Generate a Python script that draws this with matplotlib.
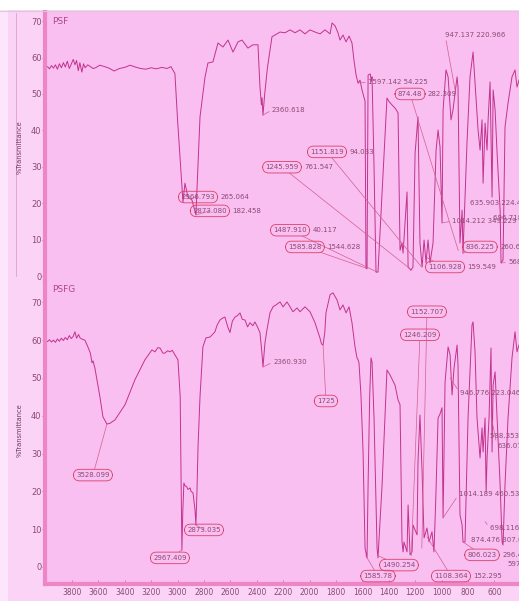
import matplotlib.pyplot as plt
from matplotlib.lines import Line2D
from matplotlib.patches import Rectangle
from matplotlib.ticker import MultipleLocator

plt.rcParams['font.family'] = ['Liberation Sans Narrow', 'DejaVu Sans']

# PSF spectrum (wavenumber cm-1, %T)
PSF = [(4000, 57.3), (3985, 57.5), (3970, 56.9), (3955, 57.8), (3940, 57.1), (3925, 58.0),
       (3910, 56.8), (3895, 58.3), (3880, 57.2), (3865, 58.6), (3850, 57.4), (3835, 59.0),
       (3820, 57.0), (3805, 58.2), (3790, 59.5), (3777, 58.0), (3765, 59.2), (3752, 56.4),
       (3740, 58.6), (3725, 56.0), (3712, 58.3), (3700, 57.2), (3680, 58.0), (3660, 57.5),
       (3640, 57.0), (3620, 57.2), (3590, 57.9), (3560, 57.6), (3520, 57.1), (3480, 56.3),
       (3440, 57.0), (3400, 57.3), (3360, 57.9), (3320, 57.4), (3280, 57.0), (3240, 56.8),
       (3200, 57.2), (3160, 56.9), (3120, 57.3), (3080, 57.0), (3050, 57.5), (3030, 56.2),
       (3020, 55.6), (3000, 42.9), (2959, 20.3), (2944, 25.5), (2921, 21.7), (2891, 20.9),
       (2861, 16.8), (2830, 43.7), (2792, 54.7), (2770, 58.5), (2732, 58.8), (2694, 64.0),
       (2656, 62.9), (2618, 64.8), (2580, 61.5), (2542, 64.3), (2512, 64.8), (2467, 62.6),
       (2429, 63.5), (2391, 63.5), (2376, 52.0), (2365, 47.0), (2360, 49.0), (2353, 44.2),
       (2340, 50.0), (2320, 57.0), (2285, 65.7), (2262, 66.2), (2224, 67.0), (2186, 66.8),
       (2148, 67.6), (2110, 66.8), (2073, 67.6), (2035, 66.5), (1997, 67.6), (1959, 67.0),
       (1921, 66.5), (1883, 67.6), (1845, 66.5), (1830, 69.5), (1807, 68.7), (1785, 66.8),
       (1770, 64.8), (1747, 66.2), (1724, 64.3), (1701, 65.9), (1679, 64.0), (1664, 59.3),
       (1648, 55.2), (1633, 53.0), (1618, 53.8), (1603, 51.1), (1580, 48.0), (1573, 2.2),
       (1565, 2.0), (1557, 55.2), (1540, 55.5), (1533, 53.5), (1527, 54.7), (1512, 30.0),
       (1497, 1.1), (1482, 1.1), (1414, 48.9), (1400, 48.0), (1376, 47.0), (1350, 46.0),
       (1330, 44.8), (1315, 7.1), (1300, 9.1), (1292, 6.3), (1262, 23.1), (1254, 2.5),
       (1232, 1.6), (1217, 2.5), (1201, 33.8), (1179, 43.7), (1164, 9.1), (1148, 2.5),
       (1133, 9.9), (1118, 3.6), (1103, 9.9), (1088, 3.6), (1065, 9.1), (1042, 34.6),
       (1027, 40.1), (1012, 35.4), (997, 14.6), (989, 45.6), (967, 56.6), (951, 54.7),
       (929, 42.9), (914, 45.6), (883, 54.7), (876, 51.9), (861, 9.1), (845, 18.1),
       (838, 6.3), (808, 36.5), (785, 54.7), (762, 61.5), (747, 53.0), (724, 40.1),
       (709, 34.6), (694, 42.9), (686, 25.5), (671, 42.0), (656, 34.6), (648, 42.9),
       (633, 53.3), (618, 21.7), (610, 51.1), (595, 45.6), (580, 33.8), (557, 18.1),
       (550, 3.6), (535, 4.4), (520, 40.9), (497, 47.5), (467, 54.7), (444, 56.6),
       (429, 51.9), (414, 53.8)]

# PSFG spectrum
PSFG = [(4000, 59.8), (3985, 59.6), (3970, 60.1), (3955, 59.5), (3940, 60.0), (3925, 59.4),
        (3910, 60.3), (3895, 59.7), (3880, 60.5), (3865, 59.9), (3850, 60.7), (3835, 60.1),
        (3820, 61.2), (3805, 60.4), (3790, 61.0), (3777, 62.2), (3765, 60.5), (3750, 61.5),
        (3739, 60.6), (3720, 60.2), (3702, 60.0), (3679, 58.2), (3660, 56.5), (3648, 54.0),
        (3640, 54.5), (3626, 52.6), (3588, 45.0), (3565, 39.7), (3535, 37.8), (3512, 38.0),
        (3474, 38.9), (3398, 42.9), (3323, 49.5), (3247, 54.8), (3194, 57.4), (3171, 56.9),
        (3150, 58.0), (3133, 57.9), (3110, 56.5), (3095, 56.6), (3075, 57.2), (3058, 56.9),
        (3040, 57.3), (3020, 56.1), (2997, 54.8), (2980, 45.0), (2974, 25.0), (2967, 4.5),
        (2960, 15.0), (2952, 22.2), (2944, 21.5), (2930, 21.2), (2921, 20.5), (2905, 20.9),
        (2898, 20.0), (2883, 19.6), (2868, 15.1), (2861, 11.1), (2853, 20.0), (2845, 31.7),
        (2830, 45.0), (2808, 58.2), (2785, 60.6), (2755, 60.8), (2735, 61.5), (2717, 62.2),
        (2700, 64.0), (2679, 65.3), (2660, 65.8), (2641, 66.1), (2620, 63.5), (2603, 62.0),
        (2585, 65.0), (2565, 66.1), (2545, 66.5), (2527, 67.2), (2510, 65.5), (2489, 65.3),
        (2470, 63.5), (2451, 64.6), (2430, 63.8), (2414, 64.8), (2395, 63.5), (2376, 62.0),
        (2361, 56.6), (2353, 52.9), (2338, 59.3), (2323, 62.7), (2300, 67.2), (2277, 68.8),
        (2255, 69.3), (2224, 70.1), (2201, 68.8), (2171, 70.1), (2148, 68.8), (2126, 67.5),
        (2095, 68.5), (2073, 67.5), (2035, 68.8), (1997, 67.5), (1959, 64.6), (1935, 62.0),
        (1921, 60.5), (1910, 59.0), (1898, 58.7), (1885, 62.0), (1876, 67.2), (1845, 72.0),
        (1823, 72.5), (1792, 70.6), (1770, 68.0), (1747, 69.3), (1724, 67.2), (1701, 68.8),
        (1679, 64.6), (1656, 58.2), (1641, 55.3), (1633, 54.8), (1626, 54.0), (1611, 45.5),
        (1595, 30.4), (1580, 5.0), (1565, 2.4), (1557, 21.7), (1545, 45.0), (1535, 55.3),
        (1527, 54.2), (1512, 39.4), (1489, 5.0), (1482, 2.4), (1451, 21.7), (1414, 52.1),
        (1391, 50.8), (1353, 48.1), (1330, 44.2), (1315, 42.9), (1300, 6.6), (1292, 4.0),
        (1285, 6.6), (1262, 4.0), (1254, 16.4), (1239, 3.2), (1224, 4.0), (1217, 11.1),
        (1186, 8.5), (1179, 27.8), (1164, 40.2), (1148, 25.1), (1133, 7.7), (1111, 10.3),
        (1095, 6.6), (1073, 9.3), (1058, 4.0), (1045, 17.2), (1027, 39.4), (1012, 40.5),
        (997, 42.1), (989, 13.0), (974, 48.9), (951, 58.2), (936, 56.1), (921, 45.5),
        (906, 52.6), (883, 58.7), (876, 53.4), (861, 13.8), (845, 11.1), (838, 6.6),
        (823, 6.6), (800, 39.4), (770, 64.0), (762, 64.8), (747, 56.9), (732, 39.4),
        (709, 28.8), (694, 36.8), (686, 30.4), (671, 39.4), (663, 19.8), (656, 28.8),
        (641, 39.4), (626, 57.9), (618, 30.4), (610, 48.1), (595, 51.6), (580, 39.4),
        (557, 21.7), (542, 6.6), (535, 5.8), (520, 21.7), (497, 39.4), (467, 55.3),
        (444, 62.2), (429, 56.9), (414, 58.7)]

# peak labels: (number, second number, circled, text wn, text T, target wn, target T)
PSF_LABELS = [
    ("2966.793", "265.064", True, 2845, 21.7, 2921, 21.2),
    ("2873.080", "182.458", True, 2755, 17.9, 2861, 16.8),
    ("2360.618", "", False, 2285, 45.6, 2353, 44.2),
    ("1597.142", "54.225", False, 1557, 53.3, 1633, 53.0),
    ("874.48", "282.309", True, 1239, 50.0, 874, 7.0),
    ("947.137", "220.966", False, 974, 66.2, 898, 51.1),
    ("1151.819", "94.033", True, 1868, 34.1, 1152, 2.5),
    ("1245.959", "761.547", True, 2209, 29.9, 1246, 2.2),
    ("1487.910", "40.117", True, 2148, 12.6, 1488, 1.1),
    ("1585.828", "1544.628", True, 2035, 8.0, 1573, 2.2),
    ("1106.928", "159.549", True, 974, 2.5, 1110, 5.0),
    ("1014.212", "349.229", False, 921, 15.1, 997, 14.6),
    ("635.903", "224.494", False, 785, 20.1, None, None),
    ("696.718", "417.5", False, 612, 15.9, None, None),
    ("836.225", "260.679", True, 709, 8.0, 838, 6.3),
    ("568.4", "", False, 497, 3.8, 550, 3.6),
]
PSFG_LABELS = [
    ("3528.099", "", True, 3641, 24.3, 3535, 37.8),
    ("2967.409", "", True, 3058, 2.4, 2967, 4.5),
    ("2873.035", "", True, 2800, 9.8, 2861, 11.1),
    ("2360.930", "", False, 2277, 54.2, 2353, 52.9),
    ("1725", "", True, 1876, 43.9, 1898, 58.7),
    ("1152.707", "", True, 1111, 67.5, 1150, 5.0),
    ("1246.209", "", True, 1164, 61.4, 1230, 3.0),
    ("1585.78", "", True, 1482, -2.4, 1575, 3.0),
    ("1490.254", "", True, 1323, 0.5, 1482, 3.0),
    ("1108.364", "152.295", True, 929, -2.4, 1111, 8.0),
    ("946.776", "223.046", False, 861, 46.0, 936, 50.0),
    ("588.353", "126.4", False, 633, 34.7, None, None),
    ("636.077", "", False, 580, 32.0, 626, 40.0),
    ("1014.189", "460.530", False, 868, 19.3, 989, 13.0),
    ("698.116", "417.2", False, 633, 10.3, 671, 12.0),
    ("874.476", "307.068", False, 777, 7.1, None, None),
    ("806.023", "296.468", True, 694, 3.2, 838, 6.6),
    ("597.1", "", False, 505, 0.8, None, None),
]

PLOT_BG = "#f9bff0"
MARGIN_BG = "#fbd3f6"
SPINE = "#ee86c6"
LINE = "#c2328f"
RING = "#d8406a"
TXT = "#8c4a74"
FS = 5

fig = plt.figure(figsize=(5.19, 6.01), dpi=100, facecolor=MARGIN_BG)
ax_top = fig.add_axes([0.0867, 0.5291, 0.9133, 0.4509])
ax_bot = fig.add_axes([0.0867, 0.0283, 0.9133, 0.5008])


def style(ax, ylim, show_x):
    ax.set_facecolor(PLOT_BG)
    ax.set_xlim(4004, 414)
    ax.set_ylim(*ylim)
    for s in ("top", "right"):
        ax.spines[s].set_visible(False)
    ax.spines["left"].set_color(SPINE)
    ax.spines["left"].set_linewidth(3)
    ax.set_yticks(range(0, 71, 10))
    ax.tick_params(axis="y", length=2, width=0.5, color=TXT, pad=0.5,
                   labelsize=6, labelcolor=TXT)
    if show_x:
        ax.spines["bottom"].set_color(SPINE)
        ax.spines["bottom"].set_linewidth(3)
        ax.xaxis.set_minor_locator(MultipleLocator(50))
        ax.set_xticks(range(600, 3801, 200))
        ax.tick_params(axis="x", which="major", direction="in", length=3, width=0.5,
                       color="#c85a98", labelsize=5.5, labelcolor=TXT, pad=3)
        ax.tick_params(axis="x", which="minor", direction="in", length=1.5, width=0.4,
                       color="#c85a98")
    else:
        ax.spines["bottom"].set_visible(False)
        ax.set_xticks([])


def draw_labels(ax, labels):
    for num, extra, ring, tx, ty, gx, gy in labels:
        arrow = None
        if gx is not None:
            arrow = dict(arrowstyle="-", color="#d06090", lw=0.5,
                         shrinkA=0, shrinkB=0,
                         relpos=(0.5, 0.5) if ring else (0, 0.5))
        target = (gx, gy) if gx is not None else (tx, ty)
        if ring:
            ax.annotate(num, xy=target, xytext=(tx, ty), fontsize=FS, color=TXT,
                        ha="center", va="center", arrowprops=arrow,
                        bbox=dict(boxstyle="round,pad=0.4,rounding_size=0.9",
                                  fc="none", ec=RING, lw=0.6),
                        annotation_clip=False)
            if extra:
                # invisible copy of the ringed number, used only as an anchor
                anchor = ax.text(tx, ty, num, fontsize=FS, ha="center", va="center",
                                 alpha=0)
                ax.annotate(extra, xy=(1, 0.5), xycoords=anchor, xytext=(4, 0),
                            textcoords="offset points", fontsize=FS, color=TXT,
                            va="center", annotation_clip=False)
        else:
            s = num + " " + extra if extra else num
            ax.annotate(s, xy=target, xytext=(tx, ty), fontsize=FS, color=TXT,
                        ha="left", va="center", arrowprops=arrow,
                        annotation_clip=False)


style(ax_top, (-1.9, 72.5), False)
style(ax_bot, (-4.5, 75.1), True)

ax_top.plot([p[0] for p in PSF], [p[1] for p in PSF], color=LINE, lw=0.7)
ax_bot.plot([p[0] for p in PSFG], [p[1] for p in PSFG], color=LINE, lw=0.7)
draw_labels(ax_top, PSF_LABELS)
draw_labels(ax_bot, PSFG_LABELS)

ax_top.text(0.015, 0.965, "PSF", transform=ax_top.transAxes, fontsize=6.5,
            color="#b04888", va="center")
ax_bot.text(0.015, 0.98, "PSFG", transform=ax_bot.transAxes, fontsize=6.5,
            color="#b04888", va="center")

fig.text(20 / 519, 0.755, "%Transmittance", rotation=90, fontsize=4.8,
         color="#6a3a5a", ha="center", va="center")
fig.text(20 / 519, 0.285, "%Transmittance", rotation=90, fontsize=4.8,
         color="#6a3a5a", ha="center", va="center")

# frame details of the scanned page
fig.patches.append(Rectangle((0, 1 - 10 / 601), 1, 10 / 601, transform=fig.transFigure,
                             fc="white", ec="none", zorder=5))
fig.patches.append(Rectangle((0, 0), 8 / 519, 1 - 10 / 601, transform=fig.transFigure,
                             fc="#fde6fb", ec="none", zorder=5))
fig.lines.append(Line2D([0, 1], [1 - 10.5 / 601] * 2, transform=fig.transFigure,
                        color="#d8c8d8", lw=0.8, zorder=6))
fig.lines.append(Line2D([16 / 519] * 2, [1 - 13 / 601, 1 - 276 / 601],
                        transform=fig.transFigure, color="#e69ad6", lw=0.6))

fig.savefig("out.png", dpi=100, facecolor=fig.get_facecolor())
